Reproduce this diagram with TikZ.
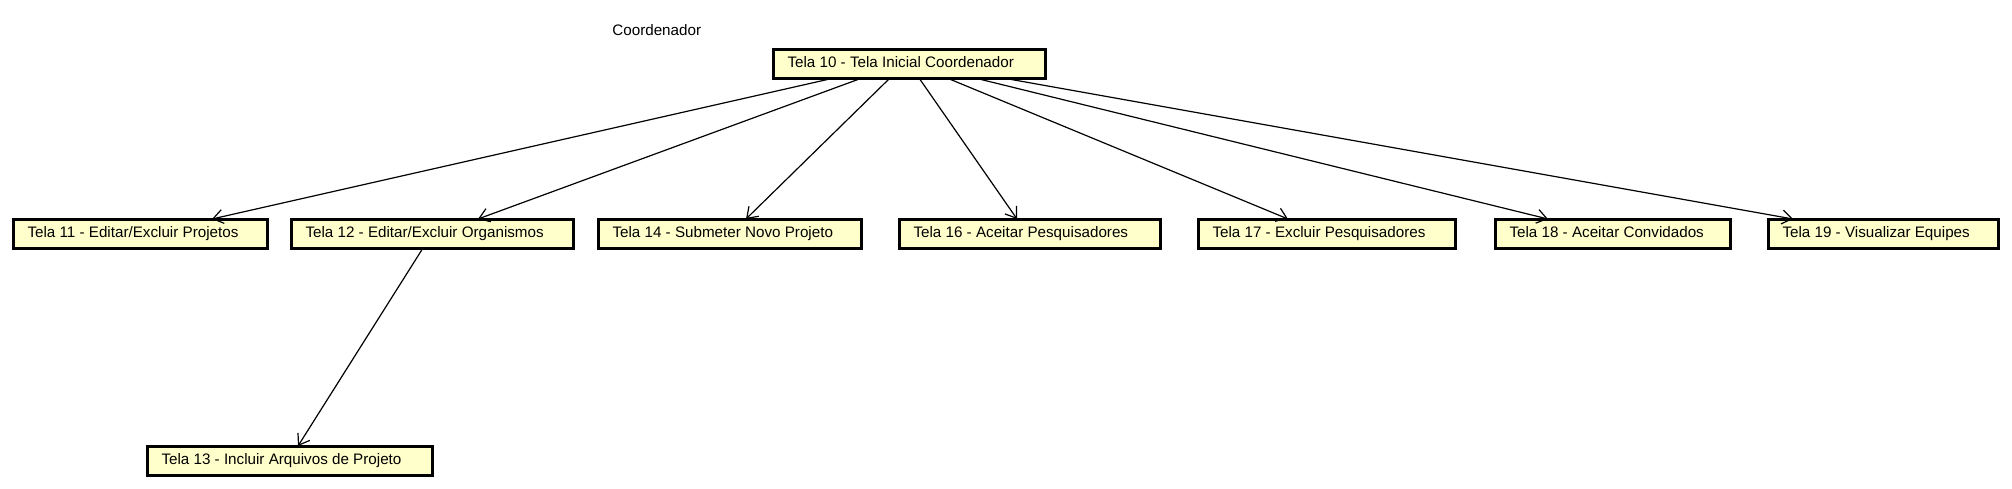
\documentclass[tikz,border=0pt]{standalone}
\usepackage{fontspec}
\setmainfont{Liberation Sans}
\usetikzlibrary{arrows.meta}
\definecolor{telafill}{HTML}{FFFFCC}
\newcommand{\telatext}[2]{\makebox[#1][l]{#2}}
\begin{document}
\begin{tikzpicture}[x=0.5pt,y=-0.5pt,
  tela/.style={draw=black, line width=1.5pt, fill=telafill, anchor=west, outer sep=0pt,
    inner xsep=7pt, inner ysep=0pt, minimum height=14.5pt, text height=6.4pt, text depth=2.2pt,
    font=\fontsize{7.6}{9}\selectfont},
  link/.style={draw=black, line width=0.6pt, -{Straight Barb[length=5pt,width=7pt]}},
  caption/.style={anchor=west, inner sep=0pt, font=\fontsize{7.6}{9}\selectfont}]
\useasboundingbox (0,0) rectangle (2012,488);
\node[caption] (lbl) at (612,30) {Coordenador};
\node[tela] (b10) at (773.5,63.5) {\telatext{122pt}{Tela 10 - Tela Inicial Coordenador}};
\node[tela] (b11) at (13.5,233.5) {\telatext{113pt}{Tela 11 - Editar/Excluir Projetos}};
\node[tela] (b12) at (291.5,233.5) {\telatext{127pt}{Tela 12 - Editar/Excluir Organismos}};
\node[tela] (b14) at (598.5,233.5) {\telatext{117.5pt}{Tela 14 - Submeter Novo Projeto}};
\node[tela] (b16) at (899.5,233.5) {\telatext{116.5pt}{Tela 16 - Aceitar Pesquisadores}};
\node[tela] (b17) at (1198.5,233.5) {\telatext{114.5pt}{Tela 17 - Excluir Pesquisadores}};
\node[tela] (b18) at (1495.5,233.5) {\telatext{103.5pt}{Tela 18 - Aceitar Convidados}};
\node[tela] (b19) at (1768.5,233.5) {\telatext{101pt}{Tela 19 - Visualizar Equipes}};
\node[tela] (b13) at (147.5,460.5) {\telatext{128.5pt}{Tela 13 - Incluir Arquivos de Projeto}};
\draw[link] ([xshift=30.25pt]b10.south west) -- ([xshift=99.25pt]b11.north west);
\draw[link] ([xshift=44.25pt]b10.south west) -- ([xshift=93.25pt]b12.north west);
\draw[link] ([xshift=58.25pt]b10.south west) -- ([xshift=73.75pt]b14.north west);
\draw[link] ([xshift=72.75pt]b10.south west) -- ([xshift=58.75pt]b16.north west);
\draw[link] ([xshift=86.75pt]b10.south west) -- ([xshift=44.75pt]b17.north west);
\draw[link] ([xshift=100.75pt]b10.south west) -- ([xshift=26.25pt]b18.north west);
\draw[link] ([xshift=114.75pt]b10.south west) -- ([xshift=12.25pt]b19.north west);
\draw[link] ([xshift=65.75pt]b12.south west) -- ([xshift=75.25pt]b13.north west);
\end{tikzpicture}
\end{document}
